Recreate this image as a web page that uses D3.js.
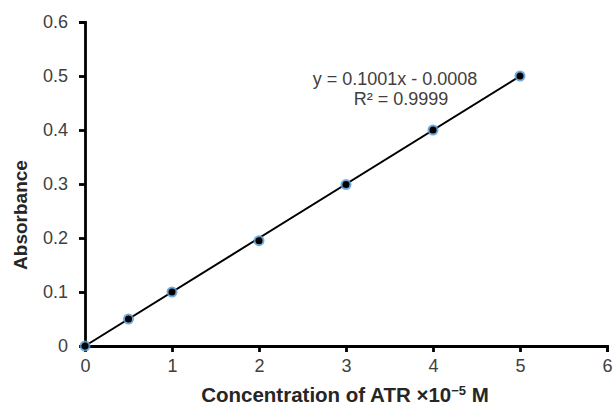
<!DOCTYPE html>
<html>
<head>
<meta charset="utf-8">
<script src="https://cdn.jsdelivr.net/npm/d3@7"></script>
<style>
  body { margin: 0; background: #fff; }
  text { font-family: "Liberation Sans", Arial, sans-serif; }
</style>
</head>
<body>
<div id="chart"></div>
<script>
const width = 615;
const height = 406;

// data
const concentration = [0, 0.5, 1, 2, 3, 4, 5];
const absorbance = [0, 0.05, 0.1, 0.195, 0.299, 0.4, 0.5];
const slope = 0.1001;
const intercept = -0.0008;
const xTicks = [0, 1, 2, 3, 4, 5, 6];
const yTicks = [0, 0.1, 0.2, 0.3, 0.4, 0.5, 0.6];

const margin = { top: 22, right: 8, bottom: 60, left: 85 };

const svg = d3.select("#chart")
    .append("svg")
    .attr("width", width)
    .attr("height", height);

const x = d3.scaleLinear()
    .domain([0, 6])
    .range([margin.left, width - margin.right]);

const y = d3.scaleLinear()
    .domain([0, 0.6])
    .range([height - margin.bottom, margin.top]);

const xAxis = svg.append("g")
    .attr("transform", `translate(0,${y(0)})`)
    .call(d3.axisBottom(x).tickValues(xTicks).tickFormat(d3.format("d")).tickSize(6).tickPadding(5));

const yAxis = svg.append("g")
    .attr("transform", `translate(${x(0)},0)`)
    .call(d3.axisLeft(y).tickValues(yTicks).tickFormat(d => d === 0 ? "0" : d3.format(".1f")(d)).tickSize(6).tickPadding(11));

[xAxis, yAxis].forEach(g => {
    g.select(".domain").attr("stroke", "#000").attr("stroke-width", 2.8);
    g.selectAll(".tick line").attr("stroke", "#000").attr("stroke-width", 2.8);
    g.selectAll(".tick text")
        .attr("fill", "#404040")
        .style("font-size", "18px");
});
xAxis.selectAll(".tick text").attr("dy", "0.85em");

// trendline
svg.append("line")
    .attr("x1", x(0))
    .attr("y1", y(Math.max(0, intercept)))
    .attr("x2", x(5))
    .attr("y2", y(slope * 5 + intercept))
    .attr("stroke", "#000")
    .attr("stroke-width", 2);

// markers
const pts = concentration.map((c, i) => ({ c, a: absorbance[i] }));
svg.selectAll(".halo")
    .data(pts)
    .enter()
    .append("circle")
    .attr("class", "halo")
    .attr("cx", d => x(d.c))
    .attr("cy", d => y(d.a))
    .attr("r", 5.5)
    .attr("fill", "#5b9bd5")
    .attr("opacity", 0.85);

svg.selectAll(".dot")
    .data(pts)
    .enter()
    .append("circle")
    .attr("class", "dot")
    .attr("cx", d => x(d.c))
    .attr("cy", d => y(d.a))
    .attr("r", 3.5)
    .attr("fill", "#000");

// equation
const eq = svg.append("text")
    .attr("y", 85)
    .attr("text-anchor", "middle")
    .attr("fill", "#404040")
    .style("font-size", "18px");
eq.append("tspan").attr("x", 395).text("y = 0.1001x - 0.0008");
eq.append("tspan").attr("x", 401).attr("dy", 20).text("R² = 0.9999");

// axis titles
svg.append("text")
    .attr("x", 345)
    .attr("y", 402)
    .attr("text-anchor", "middle")
    .attr("font-weight", "bold")
    .attr("fill", "#262626")
    .style("font-size", "20.5px")
    .html('Concentration of ATR ×10<tspan dy="-7" font-size="13px">−5</tspan><tspan dy="7"> M</tspan>');

svg.append("text")
    .attr("transform", `translate(27,${(y(0) + y(0.6)) / 2 + 31}) rotate(-90)`)
    .attr("text-anchor", "middle")
    .attr("font-weight", "bold")
    .attr("fill", "#262626")
    .style("font-size", "19px")
    .text("Absorbance");
</script>
</body>
</html>
